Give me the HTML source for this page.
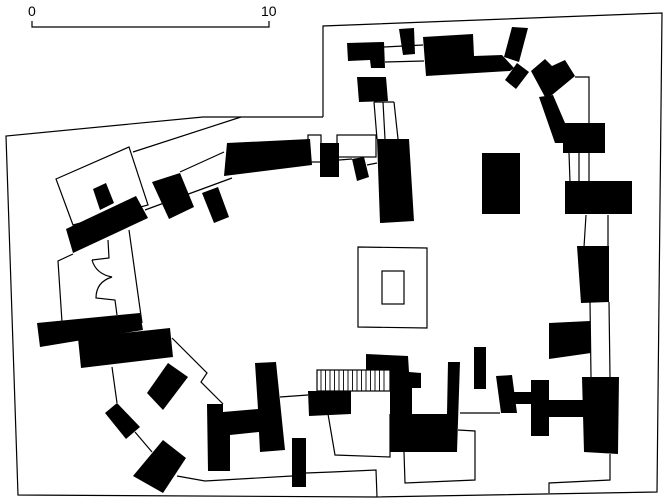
<!DOCTYPE html>
<html><head><meta charset="utf-8"><style>html,body{margin:0;padding:0;background:#fff}svg{display:block}text{font-family:"Liberation Sans",sans-serif}</style></head>
<body>
<svg width="664" height="501" viewBox="0 0 664 501" xmlns="http://www.w3.org/2000/svg">
<g fill="none" stroke="#000" stroke-width="1.2">
<!-- scale -->
<polyline points="32,21 32,27 269,27 269,21"/>
<!-- outer boundary -->
<polyline points="323,117 323,26 662,13 657,492 376,497 18,495 6,136 203,117 323,117"/>
<line x1="241" y1="117" x2="133" y2="152"/>
<!-- tilted outline rect -->
<polygon points="56,179 129,147 148,205 73,225"/>
<line x1="180" y1="172" x2="224" y2="152"/>
<line x1="145" y1="210" x2="232" y2="178"/>
<rect x="308" y="135" width="13" height="27"/>
<!-- left white polygon -->
<polyline points="62,322 58,261 73,254"/>
<line x1="129" y1="230" x2="142" y2="323"/>
<polyline points="108,240 109,258 92,260"/>
<path d="M92,260 Q96,274 112,277 Q96,282 96,298 L115,300 L117,315"/>
<!-- lower left lines -->
<polyline points="172,338 207,373 201,382 223,404"/>
<line x1="112" y1="367" x2="117" y2="403"/>
<line x1="135" y1="432" x2="152" y2="452"/>
<polyline points="177,476 205,481 292,476"/>
<polyline points="306,473 332,472 376,470 377,497"/>
<line x1="280" y1="397" x2="308" y2="395"/>
<polyline points="390,414 390,457 335,455 328,414"/>
<line x1="460" y1="413" x2="500" y2="413"/>
<polyline points="404,452 405,483 475,480 475,431 458,430"/>
<polyline points="610,454 610,480 549,483 549,493"/>
<!-- right column lines -->
<line x1="590" y1="302" x2="591" y2="377"/>
<line x1="609" y1="302" x2="610" y2="377"/>
<line x1="586" y1="215" x2="584" y2="247"/>
<line x1="608" y1="215" x2="608" y2="247"/>
<line x1="569" y1="153" x2="570" y2="182"/>
<line x1="579" y1="153" x2="579" y2="182"/>
<line x1="589" y1="153" x2="589" y2="182"/>
<polyline points="575,77 589,77 589,123"/>
<!-- top lines -->
<line x1="384" y1="47" x2="423" y2="45"/>
<line x1="385" y1="62" x2="424" y2="61"/>
<line x1="374" y1="102" x2="377" y2="139"/>
<line x1="383" y1="102" x2="385" y2="139"/>
<line x1="394" y1="102" x2="398" y2="139"/>
<line x1="374" y1="102" x2="394" y2="102"/>
<rect x="337" y="135" width="39" height="22"/>
<line x1="339" y1="160" x2="352" y2="159"/>
<line x1="367" y1="165" x2="377" y2="163"/>
<!-- fountain -->
<polygon points="358,247 427,248 427,328 358,327"/>
<rect x="382" y="271" width="22" height="33"/>
<!-- stair -->
<rect x="317" y="370" width="73" height="21"/>
</g>
<g stroke="#000" stroke-width="0.9">
<line x1="321" y1="370" x2="321" y2="391"/><line x1="325.5" y1="370" x2="325.5" y2="391"/><line x1="330" y1="370" x2="330" y2="391"/><line x1="334.5" y1="370" x2="334.5" y2="391"/><line x1="339" y1="370" x2="339" y2="391"/><line x1="343.5" y1="370" x2="343.5" y2="391"/><line x1="348" y1="370" x2="348" y2="391"/><line x1="352.5" y1="370" x2="352.5" y2="391"/><line x1="357" y1="370" x2="357" y2="391"/><line x1="361.5" y1="370" x2="361.5" y2="391"/><line x1="366" y1="370" x2="366" y2="391"/><line x1="370.5" y1="370" x2="370.5" y2="391"/><line x1="375" y1="370" x2="375" y2="391"/><line x1="379.5" y1="370" x2="379.5" y2="391"/><line x1="384" y1="370" x2="384" y2="391"/>
</g>
<g fill="#000">
<polygon points="227,143 310,139 312,165 224,176"/>
<rect x="320" y="143" width="19" height="34"/>
<polygon points="152,182 180,173 194,207 169,219"/>
<polygon points="202,193 218,187 229,217 214,223"/>
<polygon points="66,229 136,196 148,218 73,253"/>
<polygon points="93,189 106,183 114,203 100,210"/>
<polygon points="37,323 140,313 143,330 40,347"/>
<polygon points="78,338 170,328 173,357 81,368"/>
<polygon points="147,393 168,363 188,377 163,410"/>
<polygon points="105,413 117,403 140,427 126,439"/>
<polygon points="133,476 163,440 186,458 163,493"/>
<polygon points="207,404 223,404 223,412 258,409 255,363 276,362 285,450 260,452 259,432 230,435 230,471 208,471"/>
<rect x="292" y="438" width="14" height="49"/>
<polygon points="308,391 351,391 351,414 309,416"/>
<polygon points="366,354 408,356 409,372 421,373 421,388 412,388 412,414 447,414 448,362 460,362 457,452 390,452 390,370 366,370"/>
<rect x="474" y="347" width="12" height="42"/>
<polygon points="496,376 512,375 517,413 501,413"/>
<rect x="512" y="392" width="21" height="12"/>
<rect x="531" y="380" width="18" height="56"/>
<rect x="547" y="400" width="38" height="17"/>
<polygon points="582,377 619,377 618,454 584,452"/>
<polygon points="577,246 609,246 609,302 581,303"/>
<polygon points="549,323 590,321 591,353 549,359"/>
<rect x="565" y="181" width="67" height="33"/>
<rect x="563" y="123" width="42" height="30"/>
<polygon points="539,97 553,95 565,123 563,143 555,143"/>
<polygon points="531,71 545,59 552,66 565,60 575,76 552,95 545,97"/>
<polygon points="505,80 517,63 529,72 516,89"/>
<polygon points="512,27 528,28 519,62 504,57"/>
<polygon points="423,37 473,34 474,56 502,55 514,68 510,71 426,76"/>
<polygon points="399,29 414,28 415,54 403,55"/>
<polygon points="347,43 384,42 385,68 371,68 370,60 348,61"/>
<polygon points="357,77 386,77 388,101 359,102"/>
<polygon points="377,139 409,139 414,221 380,223"/>
<polygon points="352,159 364,157 369,177 357,181"/>
<rect x="482" y="153" width="38" height="61"/>
</g>
<text x="28" y="16" font-size="14">0</text>
<text x="261" y="16" font-size="14">10</text>
</svg>
</body></html>
